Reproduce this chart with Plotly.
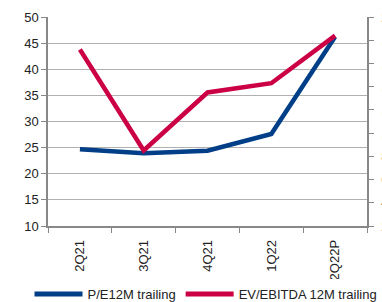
import plotly.graph_objects as go

categories = ["2Q21", "3Q21", "4Q21", "1Q22", "2Q22P"]
pe_values = [24.7, 23.9, 24.4, 27.6, 46.2]
ev_values = [17.2, 8.5, 13.5, 14.3, 18.4]
left_ticks = [10, 15, 20, 25, 30, 35, 40, 45, 50]
right_ticks = [2, 4, 6, 8, 10, 12, 14, 16, 18, 20]

BLUE = "#003f87"
RED = "#cc0044"

fig = go.Figure()
fig.add_trace(go.Scatter(x=categories, y=pe_values, name="P/E12M trailing",
                         mode="lines", line=dict(color=BLUE, width=4.5), yaxis="y"))
fig.add_trace(go.Scatter(x=categories, y=ev_values, name="EV/EBITDA 12M trailing",
                         mode="lines", line=dict(color=RED, width=4.5), yaxis="y2"))

font = dict(family="Liberation Sans, Arial, sans-serif", size=13, color="#222222")

fig.update_layout(
    width=382, height=302,
    margin=dict(l=48, r=15, t=17, b=76, autoexpand=False),
    paper_bgcolor="white", plot_bgcolor="white",
    font=font,
    showlegend=True,
    legend=dict(orientation="h", x=-0.058, xanchor="left", y=-0.325, yanchor="middle",
                font=dict(size=13, color="#222222"), itemwidth=48,
                tracegroupgap=0, itemsizing="constant"),
    xaxis=dict(type="category", range=[-0.5, 4.5], tickangle=-90, showline=True,
               linecolor="#888888", linewidth=1.5, ticks="outside",
               tickson="boundaries", ticklen=5, tickcolor="#888888", showgrid=False,
               tickfont=font, ticklabelstandoff=7, automargin=False),
    yaxis=dict(range=[10, 50], tickvals=left_ticks, showgrid=True, gridcolor="#b0b0b0",
               gridwidth=1.2, showline=True, linecolor="#888888", linewidth=1.5,
               ticks="outside", ticklen=5, tickcolor="#888888", zeroline=False,
               tickfont=font, automargin=False),
    yaxis2=dict(range=[2, 20], tickvals=right_ticks, overlaying="y", side="right",
                showgrid=False, showline=True, linecolor="#888888", linewidth=1.5,
                ticks="outside", ticklen=5, tickcolor="#888888", zeroline=False,
                tickfont=font, ticklabelstandoff=5, automargin=False),
)

fig.write_html("out.html", config={"displayModeBar": False},
               post_script="document.body.style.margin='0';document.body.style.overflow='hidden';")
